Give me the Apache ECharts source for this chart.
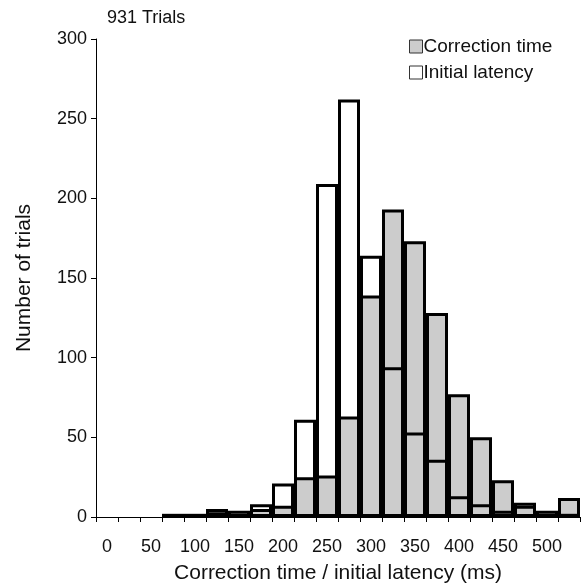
<!DOCTYPE html>
<html>
<head>
<meta charset="utf-8">
<script src="https://cdn.jsdelivr.net/npm/echarts@6/dist/echarts.min.js"></script>
<style>
  html, body { margin: 0; padding: 0; background: #fff; }
  #chart { width: 583px; height: 588px; }
</style>
</head>
<body>
<div id="chart"></div>
<script>
// 25 ms bins, labelled by their start; null = empty bin
const bins = ['0', '25', '50', '75', '100', '125', '150', '175', '200', '225', '250',
  '275', '300', '325', '350', '375', '400', '425', '450', '475', '500', '525']
const correctionTime = [null, null, null, 1, 1, 3, 2, 5, 7, 25, 26, 63, 139, 193, 173, 128, 77, 50, 23, 7, 2, 12]
const initialLatency = [null, null, null, 2, 2, 5, 4, 8, 21, 61, 209, 262, 164, 94, 53, 36, 13, 8, 4, 9, 4, 2]
const yTicks = { min: 0, max: 300, interval: 50 }

const chart = echarts.init(document.getElementById('chart'))
const font = 'Liberation Sans, Arial, Helvetica, sans-serif'
chart.setOption({
  animation: false,
  backgroundColor: '#fff',
  textStyle: { fontFamily: font },
  title: {
    text: '931 Trials',
    left: 102,
    top: 4,
    textStyle: { fontSize: 18, fontWeight: 'normal', color: '#111', fontFamily: font },
  },
  legend: {
    orient: 'vertical',
    left: 404,
    top: 32,
    icon: 'rect',
    itemWidth: 13,
    itemHeight: 13,
    itemGap: 7,
    textStyle: { fontSize: 19, color: '#111', fontFamily: font, padding: [0, 0, 0, -4] },
    data: [
      { name: 'Correction time', itemStyle: { color: '#cccccc', borderColor: '#333', borderWidth: 1 } },
      { name: 'Initial latency', itemStyle: { color: '#ffffff', borderColor: '#333', borderWidth: 1 } },
    ],
  },
  grid: {
    left: 96,
    right: 3,
    top: 39,
    bottom: 71,
    containLabel: false,
    outerBoundsMode: 'none',
  },
  xAxis: {
    type: 'category',
    data: bins,
    name: 'Correction time / initial latency (ms)',
    nameLocation: 'middle',
    nameGap: 46,
    nameTextStyle: { fontSize: 21, color: '#111', fontFamily: font },
    axisLine: { lineStyle: { color: '#000', width: 1 } },
    axisTick: { show: true, interval: 0, length: 5, lineStyle: { color: '#000' } },
    axisLabel: { interval: 1, fontSize: 18, color: '#111', margin: 21, fontFamily: font },
    splitLine: { show: false },
  },
  yAxis: {
    type: 'value',
    min: yTicks.min,
    max: yTicks.max,
    interval: yTicks.interval,
    name: 'Number of trials',
    nameLocation: 'middle',
    nameGap: 61,
    nameTextStyle: { fontSize: 21, color: '#111', fontFamily: font },
    axisLine: { show: true, lineStyle: { color: '#000', width: 1 } },
    axisTick: { show: true, length: 5, lineStyle: { color: '#000' } },
    axisLabel: { fontSize: 18, color: '#111', margin: 9, fontFamily: font },
    splitLine: { show: false },
  },
  series: [
    {
      name: 'Correction time',
      type: 'bar',
      data: correctionTime,
      barCategoryGap: '0%',
      barGap: '-100%',
      itemStyle: { color: '#cccccc', borderColor: '#000', borderWidth: 3 },
    },
    {
      name: 'Initial latency',
      type: 'bar',
      data: initialLatency,
      barCategoryGap: '0%',
      barGap: '-100%',
      itemStyle: { color: 'rgba(255,255,255,0)', borderColor: '#000', borderWidth: 3 },
    },
  ],
})
</script>
</body>
</html>
